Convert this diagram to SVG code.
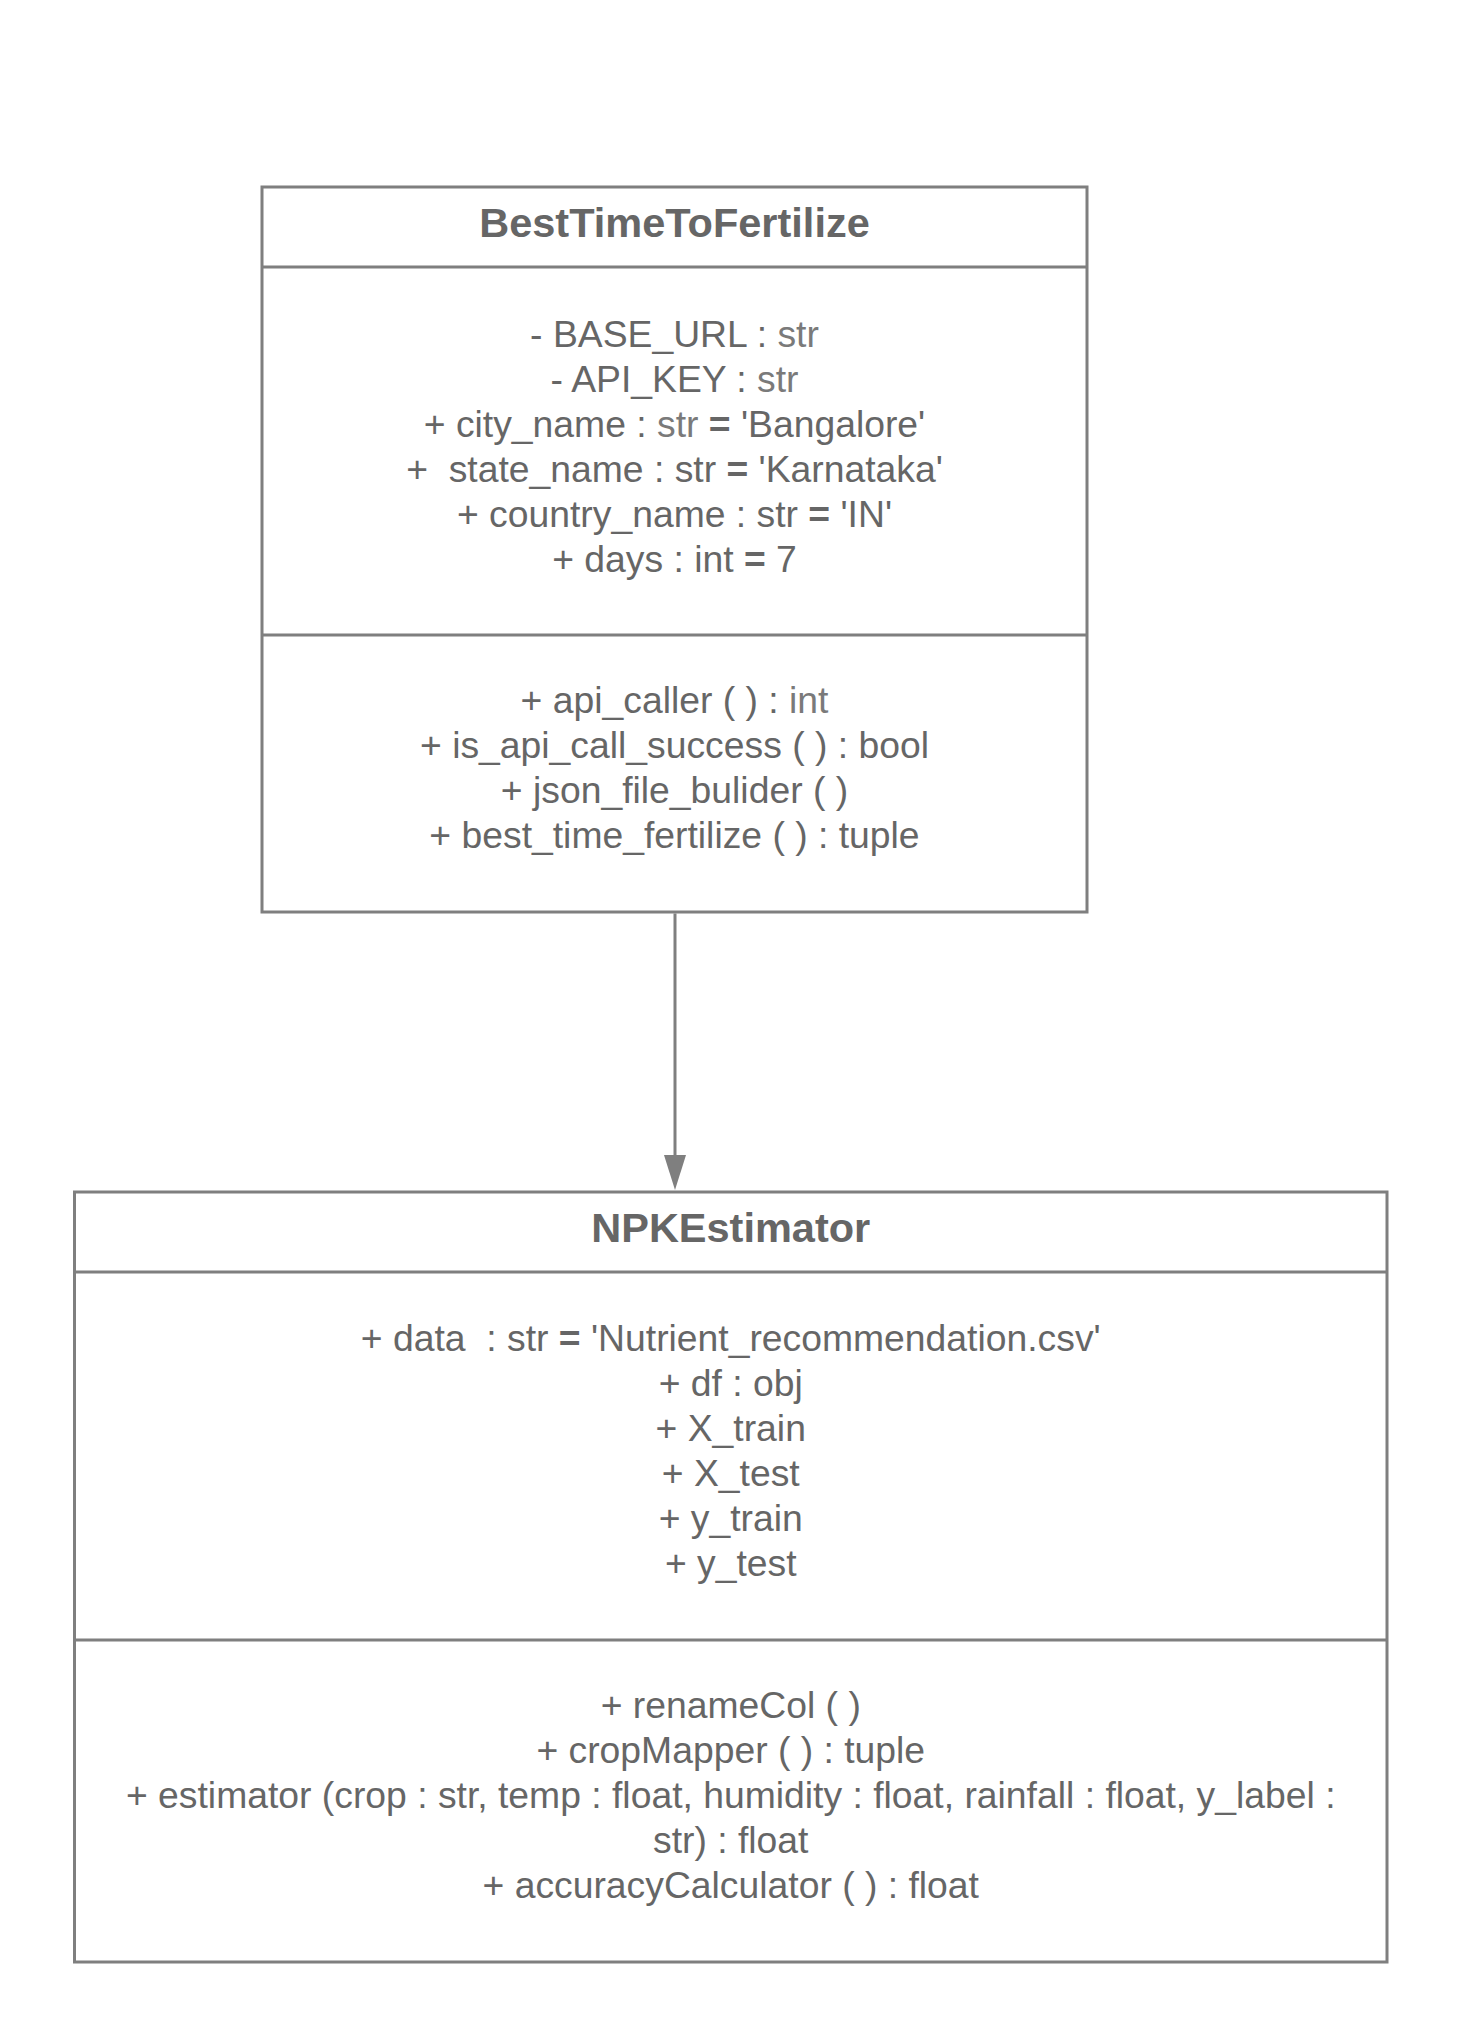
<svg xmlns="http://www.w3.org/2000/svg" width="1483" height="2038" viewBox="0 0 1483 2038">
  <style>
    .box { fill: #ffffff; stroke: #7f7f7f; stroke-width: 3; }
    .div { stroke: #7f7f7f; stroke-width: 3; }
    .t { font-family: "Liberation Sans", Arial, sans-serif; font-size: 37.3px; fill: #666666; text-anchor: middle; white-space: pre; }
    .title { font-weight: bold; font-size: 41.5px; }
    .lt { fill: #7a7a7a; }
    .b { font-weight: bold; }
    .conn { stroke: #7f7f7f; stroke-width: 3; fill: none; }
    .head { fill: #7f7f7f; }
  </style>
  <rect width="1483" height="2038" fill="#ffffff"/>

  <!-- Class: BestTimeToFertilize -->
  <g id="best-time-to-fertilize">
    <rect class="box" x="262" y="187" width="825" height="725"/>
    <line class="div" x1="262" y1="267" x2="1087" y2="267"/>
    <line class="div" x1="262" y1="635" x2="1087" y2="635"/>
    <text class="t title" x="674.5" y="237">BestTimeToFertilize</text>
    <text class="t" x="674.5" y="346.5">- BASE_URL : <tspan class="lt">str</tspan></text>
    <text class="t" x="674.5" y="391.5">- API_KEY : <tspan class="lt">str</tspan></text>
    <text class="t" x="674.5" y="436.5">+ city_name : <tspan class="lt">str</tspan> <tspan class="b">=</tspan> 'Bangalore'</text>
    <text class="t" x="674.5" y="481.5">+  state_name : str <tspan class="b">=</tspan> 'Karnataka'</text>
    <text class="t" x="674.5" y="526.5">+ country_name : str <tspan class="b">=</tspan> 'IN'</text>
    <text class="t" x="674.5" y="571.5">+ days : int <tspan class="b">=</tspan> 7</text>
    <text class="t" x="674.5" y="713">+ api_caller ( ) : <tspan class="lt">int</tspan></text>
    <text class="t" x="674.5" y="758">+ is_api_call_success ( ) : bool</text>
    <text class="t" x="674.5" y="803">+ json_file_bulider ( )</text>
    <text class="t" x="674.5" y="848">+ best_time_fertilize ( ) : tuple</text>
  </g>

  <!-- Class: NPKEstimator -->
  <g id="npk-estimator">
    <rect class="box" x="74.5" y="1192" width="1312.5" height="770"/>
    <line class="div" x1="74.5" y1="1272" x2="1387" y2="1272"/>
    <line class="div" x1="74.5" y1="1640" x2="1387" y2="1640"/>
    <text class="t title" x="730.75" y="1242">NPKEstimator</text>
    <text class="t" x="730.75" y="1350.5">+ data  : str <tspan class="b">=</tspan> 'Nutrient_recommendation.csv'</text>
    <text class="t" x="730.75" y="1395.5">+ df : obj</text>
    <text class="t" x="730.75" y="1440.5">+ X_train</text>
    <text class="t" x="730.75" y="1485.5">+ X_test</text>
    <text class="t" x="730.75" y="1530.5">+ y_train</text>
    <text class="t" x="730.75" y="1575.5">+ y_test</text>
    <text class="t" x="730.75" y="1718">+ renameCol ( )</text>
    <text class="t" x="730.75" y="1763">+ cropMapper ( ) : tuple</text>
    <text class="t" x="730.75" y="1808">+ estimator (crop : str, temp : float, humidity : float, rainfall : float, y_label :</text>
    <text class="t" x="730.75" y="1853">str) : float</text>
    <text class="t" x="730.75" y="1898">+ accuracyCalculator ( ) : float</text>
  </g>

  <!-- Connectors: association arrow from BestTimeToFertilize down to NPKEstimator -->
  <g id="connectors">
    <line class="conn" x1="675" y1="913.5" x2="675" y2="1156"/>
    <path class="head" d="M664,1155 L686,1155 L675,1190 Z"/>
  </g>
</svg>
